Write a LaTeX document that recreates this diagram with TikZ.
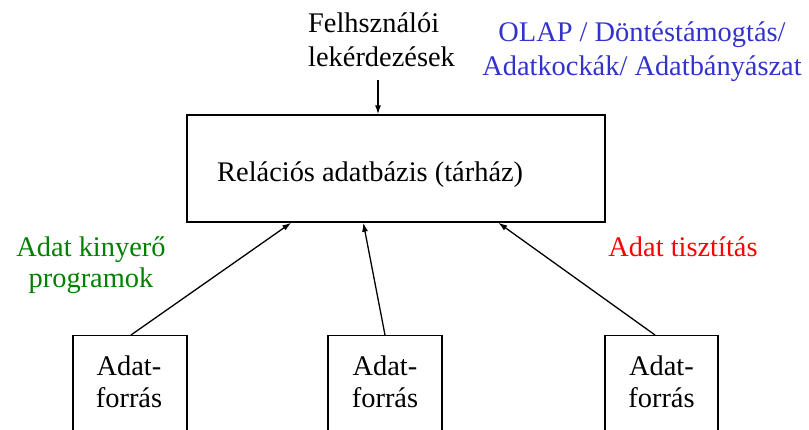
\documentclass[tikz,border=0pt]{standalone}
\usepackage{fontspec}
\setmainfont{Liberation Serif}
\usetikzlibrary{arrows.meta,calc}
\definecolor{olapblue}{RGB}{51,51,204}
\definecolor{extgreen}{RGB}{0,128,0}
\definecolor{cleanred}{RGB}{255,0,0}
\begin{document}
\begin{tikzpicture}[x=1pt,y=-1pt,
  every node/.style={font=\fontsize{28.4}{34}\selectfont},
  box/.style={draw,line width=1.4pt,inner sep=0pt},
  txt/.style={inner sep=0pt,anchor=base west,align=left},
  ctxt/.style={inner sep=0pt,anchor=base,align=center},
  arr/.style={line width=1.3pt,-{Latex[length=9pt,width=6pt]}}]
\useasboundingbox (0,0) rectangle (809,430);
% main store
\node[box,minimum width=418pt,minimum height=107pt] (db) at (396,168.5) {};
\node[txt] (dbt) at (217,182) {Relációs adatbázis (tárház)};
% sources
\node[box,minimum width=114pt,minimum height=120pt,anchor=north] (s1) at (130,335) {};
\node[box,minimum width=114pt,minimum height=120pt,anchor=north] (s2) at (385,335) {};
\node[box,minimum width=113pt,minimum height=120pt,anchor=north] (s3) at (661.5,335) {};
\node[ctxt,font=\fontsize{28.4}{32}\selectfont] (s1t) at (129,407) {Adat-\\forrás};
\node[ctxt,font=\fontsize{28.4}{32}\selectfont] (s2t) at (385,407) {Adat-\\forrás};
\node[ctxt,font=\fontsize{28.4}{32}\selectfont] (s3t) at (661.5,407) {Adat-\\forrás};
% labels
\node[txt] (q) at (308,67) {Felhsználói\\lekérdezések};
\node[ctxt,text=olapblue] (olap) at (642,76) {OLAP / Döntéstámogtás/\\Adatkockák/ Adatbányászat};
\node[ctxt,text=extgreen,font=\fontsize{28.4}{31}\selectfont] (ext) at (91,288) {Adat kinyerő\\programok};
\node[ctxt,text=cleanred] (clean) at (683,257) {Adat tisztítás};
% connectors
\coordinate (qa) at (378,80);
\draw[arr] (qa) -- (qa |- db.north);
\draw[arr] ([xshift=1pt]s1.north) -- ([xshift=105pt]db.south west);
\draw[arr] (s2.north) -- ([xshift=177pt]db.south west);
\draw[arr] ([xshift=-6.5pt]s3.north) -- ([xshift=312pt]db.south west);
\end{tikzpicture}
\end{document}
